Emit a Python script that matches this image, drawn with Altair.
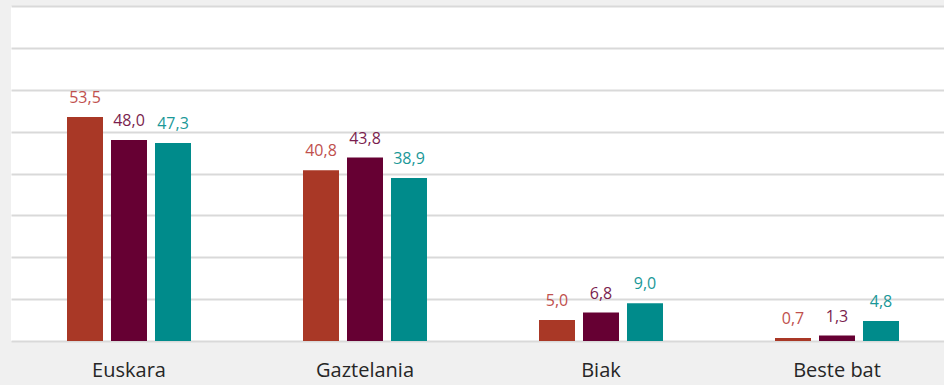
import altair as alt
import pandas as pd

categories = ["Euskara", "Gaztelania", "Biak", "Beste bat"]
series = ["A", "B", "C"]
values_a = [53.5, 40.8, 5.0, 0.7]
values_b = [48.0, 43.8, 6.8, 1.3]
values_c = [47.3, 38.9, 9.0, 4.8]
bar_colors = ["#A93826", "#660033", "#008B8B"]
text_colors = ["#C0504D", "#7A1E4E", "#1A9898"]

rows = []
for s, vals in zip(series, [values_a, values_b, values_c]):
    for c, v in zip(categories, vals):
        rows.append({"cat": c, "series": s, "value": v})
df = pd.DataFrame(rows)

x = alt.X("cat:N", sort=categories, title=None,
          scale=alt.Scale(range=[0, 944], paddingInner=0.4068, paddingOuter=0.2034),
          axis=alt.Axis(labelAngle=0, ticks=False, domain=False, labelFontSize=20,
                        labelFont="Open Sans", labelColor="#262626", labelPadding=19))
xo = alt.XOffset("series:N", sort=series,
                 scale=alt.Scale(paddingInner=0.1818, paddingOuter=0.1818))
y = alt.Y("value:Q", title=None,
          scale=alt.Scale(domain=[0, 80], nice=False),
          axis=alt.Axis(values=[0, 10, 20, 30, 40, 50, 60, 70, 80], labels=False, ticks=False,
                        domain=False, grid=True, gridColor="#d9d9d9", gridWidth=2))

base = alt.Chart(df)
bars = base.mark_bar().encode(
    x=x, xOffset=xo, y=y,
    color=alt.Color("series:N", sort=series, scale=alt.Scale(domain=series, range=bar_colors), legend=None),
)
labels = base.transform_calculate(
    lab="replace(format(datum.value, '.1f'), '.', ',')"
).mark_text(baseline="bottom", dy=-11, fontSize=16, font="Open Sans").encode(
    x=x, xOffset=xo, y=y, text="lab:N",
    color=alt.Color("series:N", sort=series, scale=alt.Scale(domain=series, range=text_colors), legend=None),
)

chart = alt.layer(bars, labels).resolve_scale(color="independent").properties(
    width=933, height=335,
    background="#f0f0f0",
    padding={"left": 11, "top": 6, "right": 0, "bottom": 44},
    autosize=alt.AutoSizeParams(type="none"),
).configure_view(fill="white", stroke=None)

chart.save("out.html", embed_options={"renderer": "svg", "actions": False})
